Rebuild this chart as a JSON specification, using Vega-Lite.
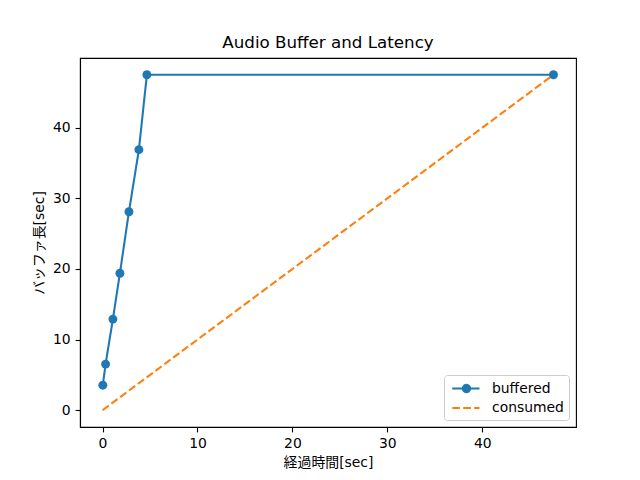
{
  "$schema": "https://vega.github.io/schema/vega-lite/v6.json",
  "width": 496,
  "height": 369,
  "autosize": {"type": "none"},
  "padding": {"left": 80, "top": 58, "right": 64, "bottom": 53},
  "background": "white",
  "title": {
    "text": "Audio Buffer and Latency",
    "fontSize": 16.7,
    "fontWeight": "normal",
    "font": "DejaVu Sans",
    "color": "black",
    "offset": 6,
    "anchor": "middle",
    "frame": "group"
  },
  "config": {
    "view": {"stroke": "black", "strokeWidth": 1.1},
    "axis": {
      "grid": false,
      "domainColor": "black",
      "domainWidth": 1.1,
      "tickColor": "black",
      "tickWidth": 1.1,
      "tickSize": 4.9,
      "labelFont": "DejaVu Sans",
      "labelFontSize": 13.9,
      "labelColor": "black",
      "labelPadding": 4.9,
      "titleFont": "DejaVu Sans, Noto Sans CJK JP",
      "titleFontSize": 13.9,
      "titleFontWeight": "normal",
      "titleColor": "black"
    }
  },
  "data": {
    "values": [
      {"series": "buffered", "x": 0.03, "y": 3.55},
      {"series": "buffered", "x": 0.32, "y": 6.53},
      {"series": "buffered", "x": 1.09, "y": 12.9},
      {"series": "buffered", "x": 1.83, "y": 19.4},
      {"series": "buffered", "x": 2.78, "y": 28.1},
      {"series": "buffered", "x": 3.83, "y": 36.9},
      {"series": "buffered", "x": 4.67, "y": 47.5},
      {"series": "buffered", "x": 47.5, "y": 47.5},
      {"series": "consumed", "x": 0, "y": 0},
      {"series": "consumed", "x": 47.5, "y": 47.5}
    ]
  },
  "encoding": {
    "x": {
      "field": "x",
      "type": "quantitative",
      "scale": {"domain": [-2.375, 49.875], "nice": false, "zero": false},
      "axis": {"values": [0, 10, 20, 30, 40], "title": "経過時間[sec]", "titlePadding": 5}
    },
    "y": {
      "field": "y",
      "type": "quantitative",
      "scale": {"domain": [-2.375, 49.875], "nice": false, "zero": false},
      "axis": {"values": [0, 10, 20, 30, 40], "title": "バッファ長[sec]", "titlePadding": 6}
    },
    "color": {
      "field": "series",
      "type": "nominal",
      "scale": {"domain": ["buffered", "consumed"], "range": ["#1f77b4", "#ff7f0e"]},
      "legend": {
        "title": null,
        "orient": "bottom-right",
        "offset": 7,
        "padding": 5,
        "fillColor": "rgba(255,255,255,0.8)",
        "strokeColor": "#cccccc",
        "cornerRadius": 3,
        "labelFont": "DejaVu Sans",
        "labelFontSize": 13.9,
        "labelColor": "black",
        "labelOffset": 26,
        "rowPadding": 2.5,
        "symbolSize": 196,
        "encode": {
          "symbols": {
            "update": {
              "shape": {"signal": "datum.value === 'buffered' ? 'M-0.75,0H3.14M1.8,0A0.52,0.52 0 1,1 0.76,0A0.52,0.52 0 1,1 1.8,0' : 'M-0.75,0H3.14'"},
              "fill": {"signal": "datum.value === 'buffered' ? '#1f77b4' : 'transparent'"},
              "stroke": {"signal": "datum.value === 'buffered' ? '#1f77b4' : '#ff7f0e'"},
              "strokeDash": {"signal": "datum.value === 'buffered' ? [1, 0] : [7.7, 3.3]"},
              "strokeWidth": {"value": 2.08},
              "opacity": {"value": 1},
              "size": {"value": 196}
            }
          }
        }
      }
    }
  },
  "layer": [
    {
      "mark": {"type": "line", "strokeWidth": 2.08},
      "encoding": {
        "strokeDash": {
          "field": "series",
          "type": "nominal",
          "scale": {"domain": ["buffered", "consumed"], "range": [[1, 0], [7.7, 3.3]]},
          "legend": null
        }
      }
    },
    {
      "transform": [{"filter": "datum.series === 'buffered'"}],
      "mark": {"type": "point", "filled": true, "opacity": 1, "size": 80},
      "encoding": {}
    }
  ]
}
